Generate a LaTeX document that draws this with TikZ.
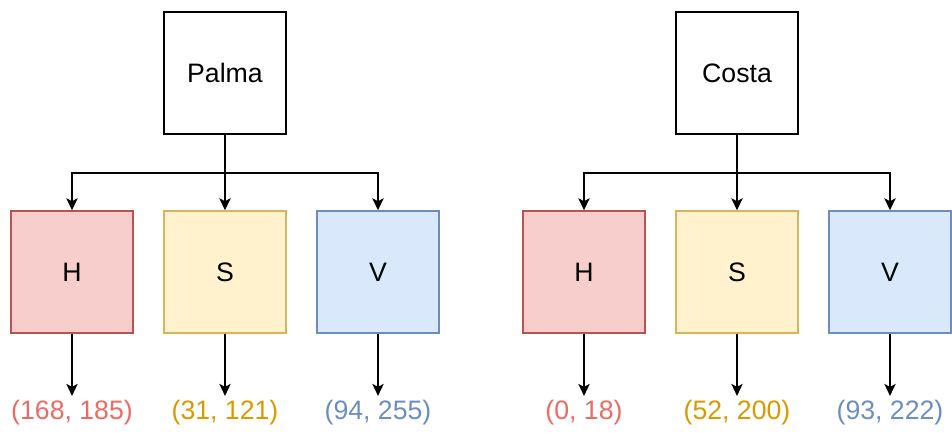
\documentclass[tikz,border=0pt]{standalone}
\usepackage{fontspec}
\setmainfont{Liberation Sans}
\usetikzlibrary{arrows.meta}
\definecolor{rfill}{HTML}{F8CECC}\definecolor{rdraw}{HTML}{B85450}\definecolor{rtext}{HTML}{EA6B66}
\definecolor{yfill}{HTML}{FFF2CC}\definecolor{ydraw}{HTML}{D6B656}\definecolor{ytext}{HTML}{D79B00}
\definecolor{bfill}{HTML}{DAE8FC}\definecolor{bdraw}{HTML}{6C8EBF}\definecolor{btext}{HTML}{6C8EBF}
\begin{document}
\begin{tikzpicture}[x=0.75pt,y=-0.75pt,
  box/.style={draw,line width=1.1pt,minimum width=91.5pt,minimum height=91.5pt,inner sep=0pt,font=\fontsize{20}{24}\selectfont},
  hbox/.style={box,fill=rfill,draw=rdraw},
  sbox/.style={box,fill=yfill,draw=ydraw},
  vbox/.style={box,fill=bfill,draw=bdraw},
  val/.style={inner sep=0pt,outer sep=3.5pt,font=\fontsize{20}{24}\selectfont},
  arr/.style={line width=1.1pt,-{Stealth[length=9pt,width=8.5pt,inset=2.2pt]}}]
\useasboundingbox (0,0) rectangle (952,432);
% left tree
\node[box] (P) at (225,73) {Palma};
\node[hbox] (H1) at (72,272) {H};
\node[sbox] (S1) at (225,272) {S};
\node[vbox] (V1) at (378,272) {V};
\coordinate (pb) at (225,173);
\draw[arr] (P.south) -- (pb) -| (H1.north);
\draw[arr] (P.south) -- (S1.north);
\draw[arr] (pb) -| (V1.north);
\node[val,text=rtext] (h1v) at (72,413) {(168, 185)};
\node[val,text=ytext] (s1v) at (225,413) {(31, 121)};
\node[val,text=btext] (v1v) at (378,413) {(94, 255)};
\draw[arr] (H1.south) -- (h1v.north);
\draw[arr] (S1.south) -- (s1v.north);
\draw[arr] (V1.south) -- (v1v.north);
% right tree
\node[box] (C) at (737,73) {Costa};
\node[hbox] (H2) at (584,272) {H};
\node[sbox] (S2) at (737,272) {S};
\node[vbox] (V2) at (890,272) {V};
\coordinate (cb) at (737,173);
\draw[arr] (C.south) -- (cb) -| (H2.north);
\draw[arr] (C.south) -- (S2.north);
\draw[arr] (cb) -| (V2.north);
\node[val,text=rtext] (h2v) at (584,413) {(0, 18)};
\node[val,text=ytext] (s2v) at (737,413) {(52, 200)};
\node[val,text=btext] (v2v) at (890,413) {(93, 222)};
\draw[arr] (H2.south) -- (h2v.north);
\draw[arr] (S2.south) -- (s2v.north);
\draw[arr] (V2.south) -- (v2v.north);
\end{tikzpicture}
\end{document}
